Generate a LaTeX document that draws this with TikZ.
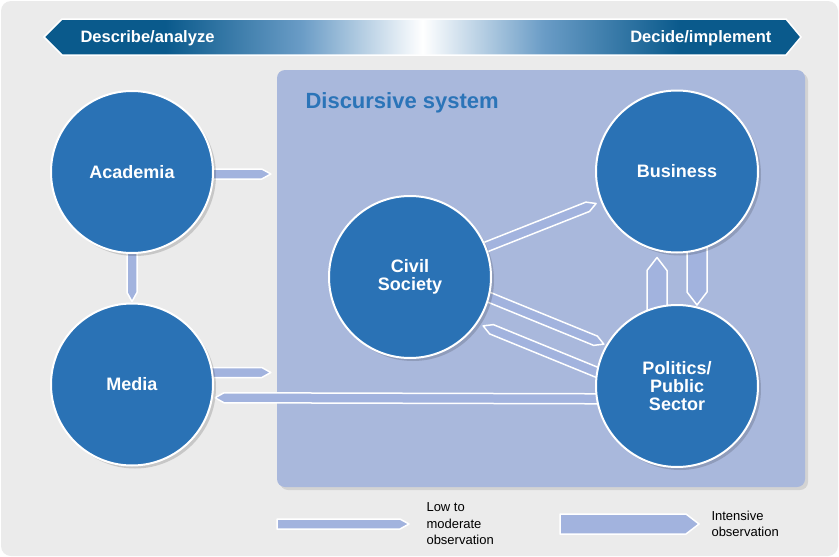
\documentclass[tikz,border=0pt]{standalone}
\usepackage{fontspec}
\setmainfont{Liberation Sans}
\usetikzlibrary{calc,positioning,shadows}

\definecolor{bggray}{HTML}{EBEBEB}
\definecolor{boxfill}{HTML}{A9B8DC}
\definecolor{pencilfill}{HTML}{A2B3DE}
\definecolor{actorblue}{HTML}{2A72B5}
\definecolor{titleblue}{HTML}{2B74B8}
\definecolor{bannerdark}{HTML}{0A5A8C}
\definecolor{bannermid}{HTML}{6A9CC6}

\pgfdeclarehorizontalshading{bannershade}{100bp}{color(0bp)=(bannerdark); color(33bp)=(bannerdark);
  color(42bp)=(bannermid); color(50bp)=(white); color(58bp)=(bannermid); color(67bp)=(bannerdark);
  color(100bp)=(bannerdark)}

\pgfdeclarelayer{background}
\pgfdeclarelayer{arrows}
\pgfsetlayers{background,arrows,main}

\tikzset{
  actor/.style={circle, minimum size=162pt, inner sep=0pt, fill=actorblue, draw=white,
    line width=2pt, text=white, align=center,
    font=\fontsize{18}{18}\selectfont\bfseries,
    drop shadow={shadow xshift=3pt, shadow yshift=-3pt, opacity=.15, fill=black}},
  thinpencil/.style={fill=pencilfill, draw=white, line width=1.5pt, line join=round,
    /utils/exec={\def\pw{5}\def\ph{9}}},
  widepencil/.style={thinpencil, /utils/exec={\def\pw{10}\def\ph{13}}},
  legendtext/.style={anchor=west, align=left, font=\fontsize{13}{16.5}\selectfont},
  bannertext/.style={text=white, font=\fontsize{16.5}{18}\selectfont\bfseries}
}

% flat arrow with a pointed head, from #2 to #3, tip pulled back by #4
\newcommand\pencil[4][thinpencil]{%
  \draw[#1] let \p1=($(#3)-(#2)$), \n1={veclen(\x1,\y1)-#4pt}, \n2={atan2(\y1,\x1)} in
    [shift={(#2)}, rotate=\n2]
    (0pt,-\pw pt) -- (\n1-\ph pt,-\pw pt) -- (\n1,0pt) -- (\n1-\ph pt,\pw pt) -- (0pt,\pw pt) -- cycle;}

\begin{document}
\begin{tikzpicture}[x=1pt, y=-1pt]
  \useasboundingbox (0,0) rectangle (839,557);
  \begin{pgfonlayer}{background}
    \fill[white] (0,0) rectangle (839,557);
    \fill[bggray, rounded corners=10pt] (1,1) rectangle (838,556);

    % banner
    \draw[white, line width=1.5pt, shading=bannershade]
      (44,37) -- (62,19) -- (786,19) -- (801,37) -- (786,55) -- (62,55) -- cycle;

    % discursive system
    \node[fill=boxfill, rounded corners=8pt, minimum width=528pt, minimum height=417pt,
      drop shadow={shadow xshift=3pt, shadow yshift=-3pt, opacity=.1, fill=black}]
      (disc) at (541,278.5) {};
  \end{pgfonlayer}

  \node[bannertext, anchor=base west] (describe) at (77,42.5) {Describe/analyze};
  \node[bannertext, anchor=base east] (decide) at (775,42.5) {Decide/implement};

  \node[anchor=base west, text=titleblue, font=\fontsize{22}{24}\selectfont\bfseries]
    (disctitle) at (302,108.5) {Discursive system};

  \node[actor] (acad) at (132,172) {Academia};
  \node[actor] (media) at (132,384.5) {Media};
  \node[actor] (civ) at (410,277) {Civil\\Society};
  \node[actor] (bus) at (677,171.5) {Business};
  \node[actor] (pol) at (677,386) {Politics/\\Public\\Sector};

  \begin{pgfonlayer}{arrows}
    \pencil{$(acad.center)+(0,2)$}{$(acad.center -| disc.west)+(-6,2)$}{0}
    \pencil{acad.center}{media.center}{83}
    \pencil{$(media.center)+(0,-12)$}{$(media.center -| disc.west)+(-6,-12)$}{0}
    \pencil{$(pol.center)+(0,13)$}{$(media.center)+(0,13)$}{83}
    \pencil{civ.center}{bus.center}{87}
    \pencil{$(civ.center)+(0,-12)$}{$(pol.center)+(0,-12)$}{79}
    \pencil{$(pol.center)+(0,19)$}{$(civ.center)+(0,19)$}{79}
    \pencil[widepencil]{$(pol.center)+(-20,0)$}{$(bus.center)+(-20,0)$}{86}
    \pencil[widepencil]{$(bus.center)+(20,0)$}{$(pol.center)+(20,0)$}{81}
  \end{pgfonlayer}

  % legend
  \coordinate (lowA) at (277,524);
  \coordinate (lowB) at (409,524);
  \coordinate (intA) at (560,524);
  \coordinate (intB) at (699,524);
  \pencil{lowA}{lowB}{0}
  \pencil[widepencil]{intA}{intB}{0}
  \node[legendtext] (lowtext) at (423,524) {Low to\\moderate\\observation};
  \node[legendtext] (inttext) at (708,524) {Intensive\\observation};
\end{tikzpicture}
\end{document}
